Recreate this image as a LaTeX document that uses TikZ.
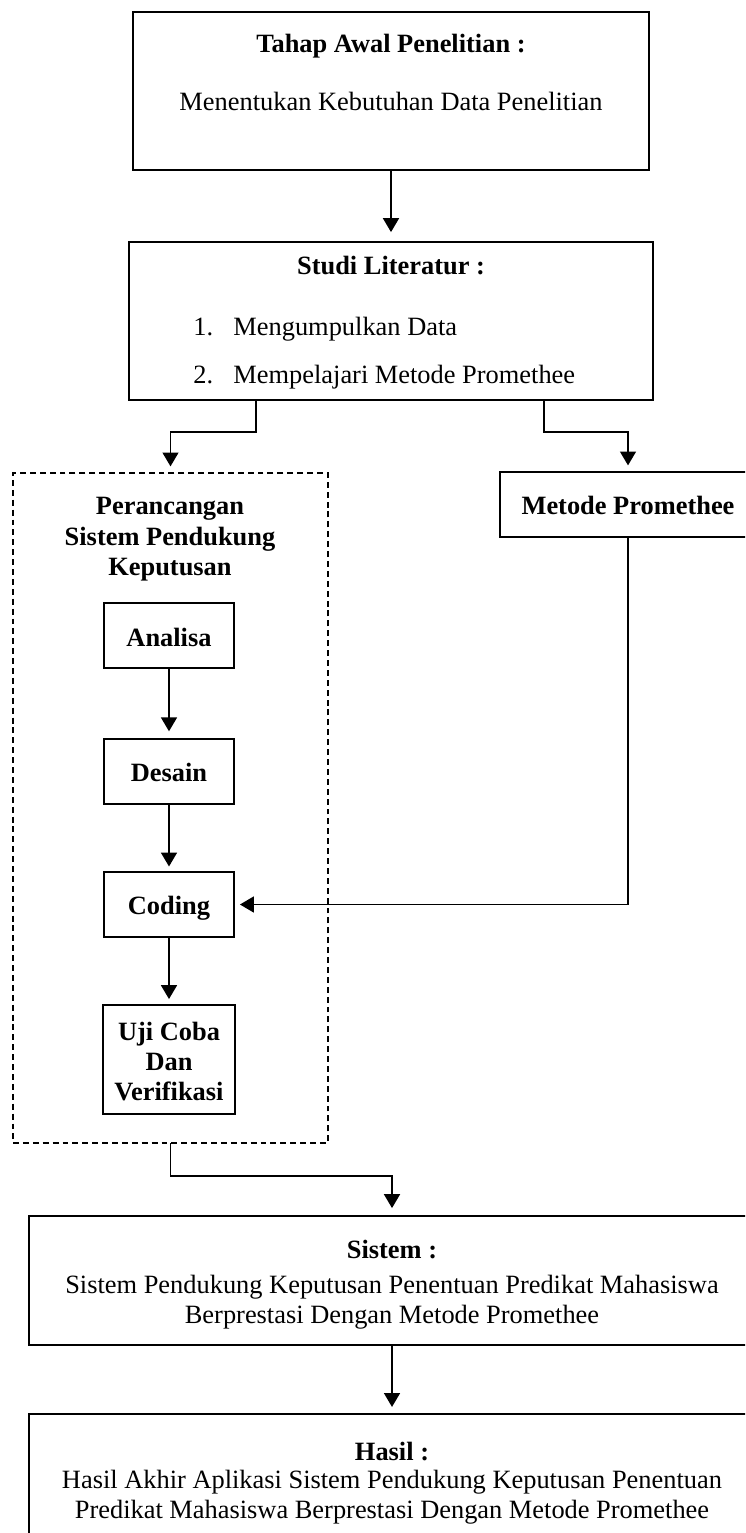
\documentclass[tikz,border=0pt]{standalone}
\usepackage{fontspec}
\setmainfont{Liberation Serif}
\usetikzlibrary{arrows.meta,calc}
\def\pxu{0.4545pt}
\begin{document}
\begin{tikzpicture}[x=0.4545pt,y=-0.4545pt,
  frame/.style={draw, line width=0.85pt, inner sep=0pt, outer sep=0pt, anchor=center},
  dframe/.style={frame, line width=0.75pt, dash pattern=on 2.7pt off 1.8pt},
  conn/.style={line width=0.85pt},
  arr/.style={conn, -{Triangle[length=6.3pt,width=7.2pt]}},
  lbl/.style={inner sep=0pt, anchor=base, font=\fontsize{12}{14}\selectfont},
  blbl/.style={inner sep=0pt, anchor=base, font=\fontsize{12}{14}\selectfont\bfseries},
  llbl/.style={lbl, anchor=base west}]
\useasboundingbox (0,0) rectangle (745,1533);
\clip (0,0) rectangle (745,1533);
% boxes
\node[frame, minimum width=516*\pxu, minimum height=158*\pxu] (awal) at (391,91) {};
\node[frame, minimum width=524*\pxu, minimum height=158*\pxu] (studi) at (391,321) {};
\node[dframe, minimum width=315*\pxu, minimum height=670*\pxu] (dash) at (170.5,808) {};
\node[frame, minimum width=256*\pxu, minimum height=65*\pxu] (metode) at (628,504.5) {};
\node[frame, minimum width=130*\pxu, minimum height=65*\pxu] (analisa) at (169,635.5) {};
\node[frame, minimum width=130*\pxu, minimum height=65*\pxu] (desain) at (169,771.5) {};
\node[frame, minimum width=130*\pxu, minimum height=65*\pxu] (coding) at (169,904.5) {};
\node[frame, minimum width=132*\pxu, minimum height=109*\pxu] (uji) at (169,1059.5) {};
\node[frame, minimum width=726*\pxu, minimum height=129*\pxu] (sistem) at (392,1280.5) {};
\node[frame, minimum width=726*\pxu, minimum height=136*\pxu] (hasil) at (392,1482) {};
% texts
\node[blbl] (awalT) at (391,53) {Tahap Awal Penelitian :};
\node[lbl] (awalB) at (391,111) {Menentukan Kebutuhan Data Penelitian};
\node[blbl] (studiT) at (391,275) {Studi Literatur :};
\node[llbl] (n1) at (193,336) {1.};
\node[llbl] (i1) at (233,336) {Mengumpulkan Data};
\node[llbl] (n2) at (193,383) {2.};
\node[llbl] (i2) at (233,383) {Mempelajari Metode Promethee};
\node[blbl] (p1) at (170,514) {Perancangan};
\node[blbl] (p2) at (170,545) {Sistem Pendukung};
\node[blbl] (p3) at (170,575) {Keputusan};
\node[blbl] (mT) at (628,514) {Metode Promethee};
\node[blbl] (aT) at (169,646) {Analisa};
\node[blbl] (dT) at (169,781) {Desain};
\node[blbl] (cT) at (169,914) {Coding};
\node[blbl] (u1) at (169,1040) {Uji Coba};
\node[blbl] (u2) at (169,1070) {Dan};
\node[blbl] (u3) at (169,1100) {Verifikasi};
\node[blbl] (sT) at (392,1258) {Sistem :};
\node[lbl] (s1) at (392,1293) {Sistem Pendukung Keputusan Penentuan Predikat Mahasiswa};
\node[lbl] (s2) at (392,1323) {Berprestasi Dengan Metode Promethee};
\node[blbl] (hT) at (392,1460) {Hasil :};
\node[lbl] (h1) at (392,1488) {Hasil Akhir Aplikasi Sistem Pendukung Keputusan Penentuan};
\node[lbl] (h2) at (392,1518) {Predikat Mahasiswa Berprestasi Dengan Metode Promethee};
% connectors
\coordinate (sl) at (256,432);
\coordinate (sr) at (544,432);
\coordinate (db) at (170.5,1176);
\draw[arr, shorten >=4.5pt] (awal.south) -- (studi.north);
\draw[arr, shorten >=3pt] (studi.south -| sl) -- (sl) -| (dash.north);
\draw[arr, shorten >=3pt] (studi.south -| sr) -- (sr) -| (metode.north);
\draw[arr, shorten >=3.5pt] (analisa.south) -- (desain.north);
\draw[arr, shorten >=2.5pt] (desain.south) -- (coding.north);
\draw[arr, shorten >=2.7pt] (coding.south) -- (uji.north);
\draw[arr, shorten >=2.7pt] (metode.south) |- (coding.east);
\draw[arr, shorten >=3.6pt] (dash.south) -- (db) -| (sistem.north);
\draw[arr, shorten >=3.2pt] (sistem.south) -- (hasil.north);
\end{tikzpicture}
\end{document}
